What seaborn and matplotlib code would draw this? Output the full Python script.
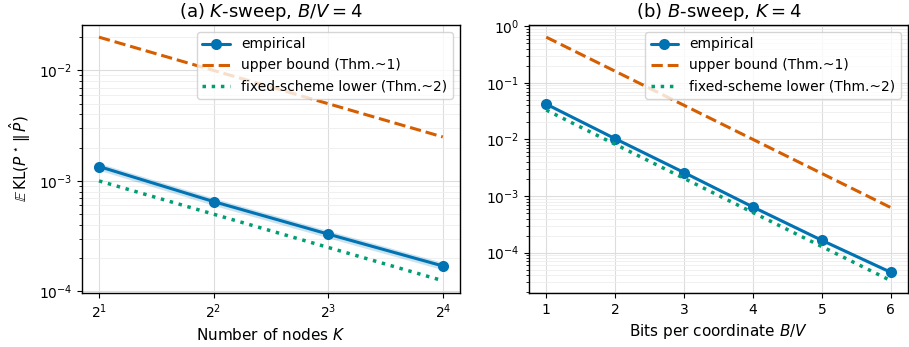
import numpy as np
import pandas as pd
import matplotlib
matplotlib.use("Agg")
import matplotlib.pyplot as plt
import seaborn as sns

# panel (a): K-sweep, B/V = 4
k_nodes = [2, 4, 8, 16]
k_emp = [1.35e-3, 6.5e-4, 3.3e-4, 1.7e-4]
k_emp_lo = [1.25e-3, 6.0e-4, 3.05e-4, 1.57e-4]
k_emp_hi = [1.45e-3, 7.0e-4, 3.55e-4, 1.83e-4]
k_upper = [2.0e-2, 1.0e-2, 5.0e-3, 2.5e-3]
k_lower = [1.0e-3, 5.0e-4, 2.5e-4, 1.25e-4]

# panel (b): B-sweep, K = 4
b_bits = [1, 2, 3, 4, 5, 6]
b_emp = [4.2e-2, 1.03e-2, 2.6e-3, 6.4e-4, 1.65e-4, 4.5e-5]
b_emp_lo = [3.95e-2, 9.7e-3, 2.45e-3, 6.0e-4, 1.55e-4, 4.2e-5]
b_emp_hi = [4.45e-2, 1.09e-2, 2.75e-3, 6.8e-4, 1.75e-4, 4.8e-5]
b_upper = [6.4e-1, 1.6e-1, 4.0e-2, 1.0e-2, 2.5e-3, 6.25e-4]
b_lower = [3.3e-2, 8.2e-3, 2.05e-3, 5.1e-4, 1.28e-4, 3.2e-5]

sns.set_style("ticks", rc={
    'text.color': 'black', 'axes.labelcolor': 'black',
    'xtick.color': 'black', 'ytick.color': 'black',
    'axes.edgecolor': 'black',
    'xtick.major.size': 3.5, 'ytick.major.size': 3.5,
    'ytick.minor.size': 2.0, 'ytick.minor.width': 0.6,
})
plt.rcParams['font.family'] = ['DejaVu Sans']
plt.rcParams['mathtext.fontset'] = 'dejavusans'

pal = sns.color_palette("colorblind")
c_emp, c_up, c_low = pal[0], pal[3], pal[2]

fig = plt.figure(figsize=(9.09, 3.47), dpi=100)
ax1 = fig.add_axes([0.090, 0.156, 0.416, 0.772])
ax2 = fig.add_axes([0.582, 0.156, 0.417, 0.772])


def draw(ax, x, emp, lo, hi, up, low):
    ax.fill_between(x, lo, hi, color=c_emp, alpha=0.2, linewidth=0)
    sns.lineplot(x=x, y=emp, ax=ax, color=c_emp, marker='o', markersize=8,
                 markeredgewidth=0, linewidth=2.2, label='empirical')
    sns.lineplot(x=x, y=up, ax=ax, color=c_up, linestyle='--', linewidth=2.2,
                 label='upper bound (Thm.~1)')
    sns.lineplot(x=x, y=low, ax=ax, color=c_low, linewidth=2.5,
                 label='fixed-scheme lower (Thm.~2)')
    ax.lines[-1].set_linestyle(':')
    ax.set_yscale('log')
    ax.grid(True, which='major', color='#dddddd', linewidth=0.8)
    ax.grid(True, which='minor', axis='y', color='#eeeeee', linewidth=0.6)
    for s in ax.spines.values():
        s.set_visible(True)
        s.set_linewidth(1.0)
    ax.tick_params(labelsize=10)
    leg = ax.legend(loc='upper right', fontsize=10, framealpha=0.8)
    leg.get_lines()[2].set_linestyle(':')


draw(ax1, k_nodes, k_emp, k_emp_lo, k_emp_hi, k_upper, k_lower)
ax1.set_xscale('log', base=2)
ax1.set_xticks(k_nodes)
ax1.set_xticklabels([r'$2^{1}$', r'$2^{2}$', r'$2^{3}$', r'$2^{4}$'])
ax1.xaxis.set_minor_locator(matplotlib.ticker.NullLocator())
ax1.set_title(r'(a) $K$-sweep, $B/V=4$', fontsize=13)
ax1.set_xlabel(r'Number of nodes $K$', fontsize=11)
ax1.set_ylabel(r'$\mathbb{E}\,\mathrm{KL}(P^\star\,\|\,\hat{P})$', fontsize=11)

draw(ax2, b_bits, b_emp, b_emp_lo, b_emp_hi, b_upper, b_lower)
ax2.set_xticks(b_bits)
ax2.set_title(r'(b) $B$-sweep, $K=4$', fontsize=13)
ax2.set_xlabel(r'Bits per coordinate $B/V$', fontsize=11)
ax2.set_ylabel('')

fig.savefig('out.png', dpi=100)
